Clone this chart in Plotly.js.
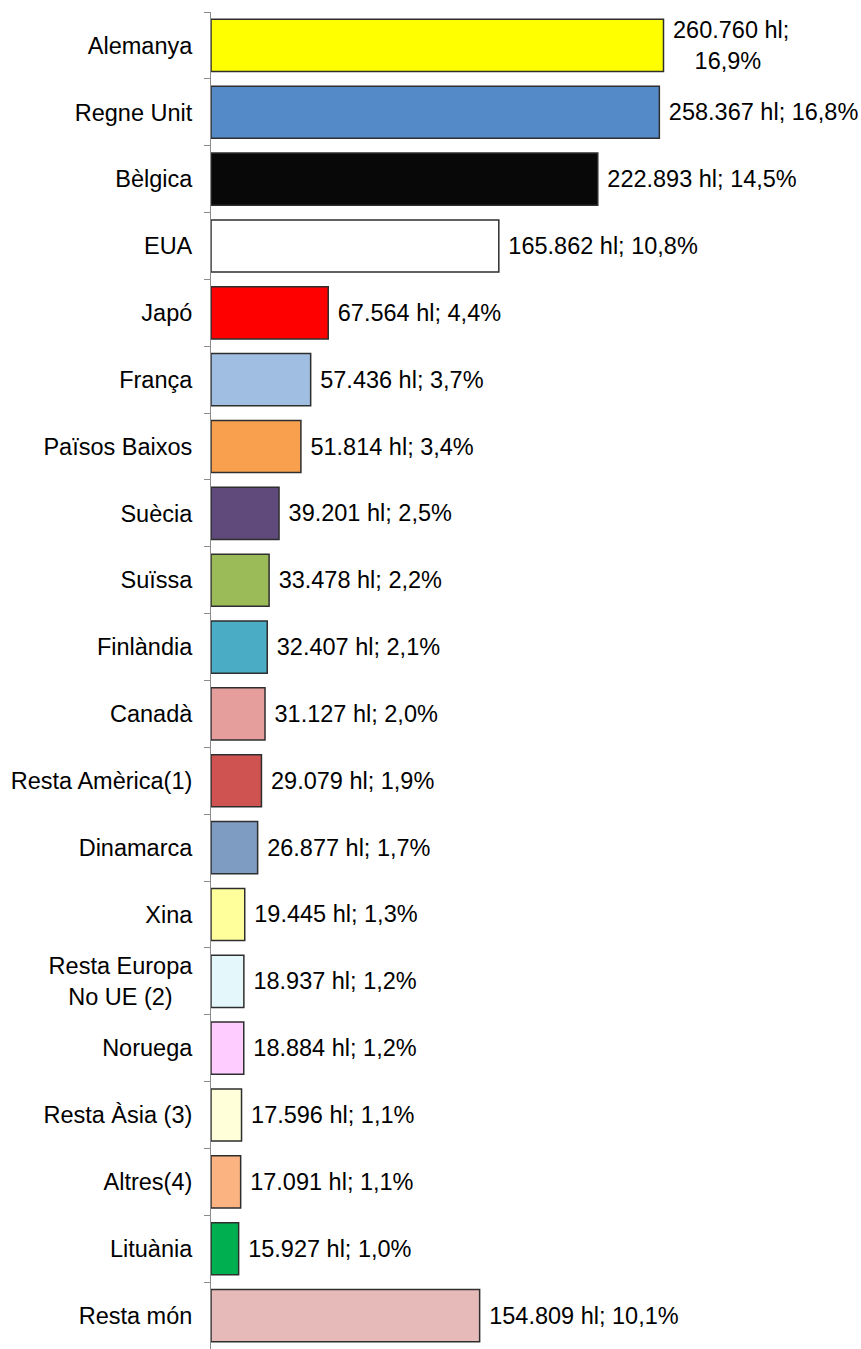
<!DOCTYPE html>
<html>
<head>
<meta charset="utf-8">
<script src="https://cdn.plot.ly/plotly-3.0.1.min.js"></script>
<style>html,body{margin:0;padding:0;background:#fff;}#chart{width:861px;height:1349px;}</style>
</head>
<body>
<div id="chart"></div>
<script>
const categories = ["Alemanya","Regne Unit","Bèlgica","EUA","Japó","França","Països Baixos","Suècia","Suïssa","Finlàndia","Canadà","Resta Amèrica(1)","Dinamarca","Xina","Resta Europa No UE (2)","Noruega","Resta Àsia (3)","Altres(4)","Lituània","Resta món"];
const tickLabels = ["Alemanya","Regne Unit","Bèlgica","EUA","Japó","França","Països Baixos","Suècia","Suïssa","Finlàndia","Canadà","Resta Amèrica(1)","Dinamarca","Xina","Resta Europa<br>No UE (2)\u00a0\u00a0\u00a0","Noruega","Resta Àsia (3)","Altres(4)","Lituània","Resta món"];
const volumesHl = [260760,258367,222893,165862,67564,57436,51814,39201,33478,32407,31127,29079,26877,19445,18937,18884,17596,17091,15927,154809];
const sharePct = [16.9,16.8,14.5,10.8,4.4,3.7,3.4,2.5,2.2,2.1,2.0,1.9,1.7,1.3,1.2,1.2,1.1,1.1,1.0,10.1];
const wrappedLabels = ["Alemanya"];
const barColors = ["#FFFF00","#558AC9","#080808","#FFFFFF","#FF0000","#A0BEE2","#F9A04F","#604A7B","#9BBB59","#4BACC6","#E59E9C","#CF5451","#7E9BC1","#FFFF9C","#E4F8FC","#FFCCFF","#FFFFDA","#FCB382","#00B050","#E6BAB9"];

function fmtInt(v){return String(v).replace(/\B(?=(\d{3})+(?!\d))/g,".");}
function fmtPct(p){return p.toFixed(1).replace(".",",")+"%";}
const texts = categories.map((c,i)=> "\u00a0"+fmtInt(volumesHl[i])+" hl;"+(wrappedLabels.includes(c)?"<br>":" ")+fmtPct(sharePct[i]));

const trace = {
  type:"bar", orientation:"h",
  y: categories, x: volumesHl,
  text: texts, textposition:"outside", cliponaxis:false, constraintext:"none",
  textfont:{family:"Liberation Sans, Arial, sans-serif", size:23.5, color:"#000"},
  marker:{color:barColors, line:{color:"#2e2e2e", width:1.5}},
  hoverinfo:"none"
};
const layout = {
  width:861, height:1349,
  margin:{l:211, r:60, t:12, b:0},
  paper_bgcolor:"#fff", plot_bgcolor:"#fff",
  bargap:0.22,
  showlegend:false,
  font:{family:"Liberation Sans, Arial, sans-serif", size:23.5, color:"#000"},
  xaxis:{range:[0,340000], visible:false, showgrid:false, zeroline:false, fixedrange:true},
  yaxis:{type:"category", autorange:"reversed", showline:true, linecolor:"#8c8c8c", linewidth:1,
         ticks:"outside", tickson:"boundaries", ticklen:6, tickcolor:"#8c8c8c", tickwidth:1,
         tickvals:categories, ticktext:tickLabels, ticklabelstandoff:13,
         showgrid:false, zeroline:false, tickfont:{size:23.5, color:"#000"}}
};
Plotly.newPlot("chart",[trace],layout,{displayModeBar:false, staticPlot:true});
</script>
</body>
</html>
